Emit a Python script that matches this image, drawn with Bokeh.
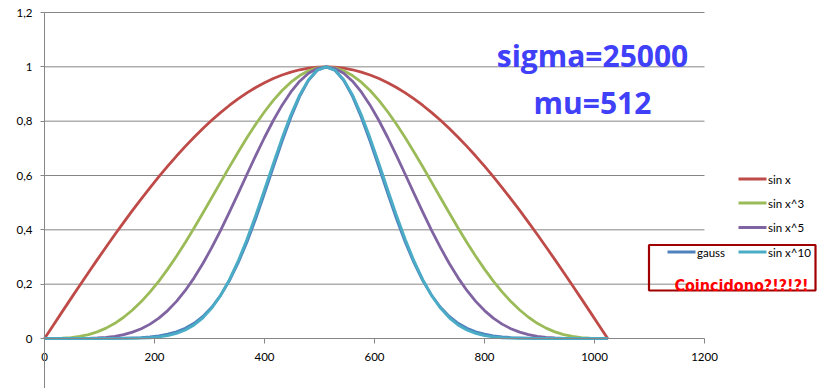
from bokeh.plotting import figure
from bokeh.models import Range1d, LinearAxis, FixedTicker
from bokeh.core.properties import value
from bokeh.embed import file_html
from bokeh.resources import INLINE

# ---------------- data ----------------
x_vals = list(range(0, 1025, 16))

sin_x = [0, 0.0491, 0.0980, 0.1467, 0.1951, 0.2430, 0.2903, 0.3369, 0.3827, 0.4276,
         0.4714, 0.5141, 0.5556, 0.5957, 0.6344, 0.6716, 0.7071, 0.7410, 0.7730, 0.8032,
         0.8315, 0.8577, 0.8819, 0.9040, 0.9239, 0.9415, 0.9569, 0.9700, 0.9808, 0.9892,
         0.9952, 0.9988, 1.0,
         0.9988, 0.9952, 0.9892, 0.9808, 0.9700, 0.9569, 0.9415, 0.9239, 0.9040, 0.8819,
         0.8577, 0.8315, 0.8032, 0.7730, 0.7410, 0.7071, 0.6716, 0.6344, 0.5957, 0.5556,
         0.5141, 0.4714, 0.4276, 0.3827, 0.3369, 0.2903, 0.2430, 0.1951, 0.1467, 0.0980,
         0.0491, 0]

sin_x3 = [0, 0.0001, 0.0009, 0.0032, 0.0074, 0.0143, 0.0245, 0.0382, 0.0560, 0.0782,
          0.1048, 0.1359, 0.1715, 0.2114, 0.2553, 0.3029, 0.3536, 0.4068, 0.4619, 0.5182,
          0.5748, 0.6310, 0.6859, 0.7387, 0.7886, 0.8347, 0.8763, 0.9128, 0.9435, 0.9679,
          0.9856, 0.9964, 1.0,
          0.9964, 0.9856, 0.9679, 0.9435, 0.9128, 0.8763, 0.8347, 0.7886, 0.7387, 0.6859,
          0.6310, 0.5748, 0.5182, 0.4619, 0.4068, 0.3536, 0.3029, 0.2553, 0.2114, 0.1715,
          0.1359, 0.1048, 0.0782, 0.0560, 0.0382, 0.0245, 0.0143, 0.0074, 0.0032, 0.0009,
          0.0001, 0]

sin_x5 = [0, 0.0, 0.0, 0.0001, 0.0003, 0.0008, 0.0021, 0.0043, 0.0082, 0.0143,
          0.0233, 0.0359, 0.0529, 0.0750, 0.1028, 0.1366, 0.1768, 0.2233, 0.2760, 0.3343,
          0.3974, 0.4643, 0.5335, 0.6037, 0.6731, 0.7399, 0.8025, 0.8589, 0.9076, 0.9471,
          0.9761, 0.9940, 1.0,
          0.9940, 0.9761, 0.9471, 0.9076, 0.8589, 0.8025, 0.7399, 0.6731, 0.6037, 0.5335,
          0.4643, 0.3974, 0.3343, 0.2760, 0.2233, 0.1768, 0.1366, 0.1028, 0.0750, 0.0529,
          0.0359, 0.0233, 0.0143, 0.0082, 0.0043, 0.0021, 0.0008, 0.0003, 0.0001, 0.0,
          0.0, 0]

gauss = [0, 0, 0, 0, 0, 0.0001, 0.0002, 0.0003, 0.0006, 0.0012,
         0.0020, 0.0035, 0.0060, 0.0099, 0.0158, 0.0247, 0.0378, 0.0561, 0.0814, 0.1150,
         0.1583, 0.2125, 0.2780, 0.3546, 0.4408, 0.5341, 0.6308, 0.7262, 0.8148, 0.8912,
         0.9501, 0.9873, 1.0,
         0.9873, 0.9501, 0.8912, 0.8148, 0.7262, 0.6308, 0.5341, 0.4408, 0.3546, 0.2780,
         0.2125, 0.1583, 0.1150, 0.0814, 0.0561, 0.0378, 0.0247, 0.0158, 0.0099, 0.0060,
         0.0035, 0.0020, 0.0012, 0.0006, 0.0003, 0.0002, 0.0001, 0, 0, 0,
         0, 0]

sin_x10 = [0, 0, 0, 0, 0, 0, 0, 0, 0.0001, 0.0002,
           0.0005, 0.0013, 0.0028, 0.0056, 0.0106, 0.0187, 0.0313, 0.0499, 0.0762, 0.1118,
           0.1579, 0.2155, 0.2846, 0.3645, 0.4531, 0.5475, 0.6439, 0.7377, 0.8237, 0.8969,
           0.9528, 0.9881, 1.0,
           0.9881, 0.9528, 0.8969, 0.8237, 0.7377, 0.6439, 0.5475, 0.4531, 0.3645, 0.2846,
           0.2155, 0.1579, 0.1118, 0.0762, 0.0499, 0.0313, 0.0187, 0.0106, 0.0056, 0.0028,
           0.0013, 0.0005, 0.0002, 0.0001, 0, 0, 0, 0, 0, 0,
           0, 0]

series_names = ["sin x", "sin x^3", "sin x^5", "gauss", "sin x^10"]
series_values = [sin_x, sin_x3, sin_x5, gauss, sin_x10]
series_colors = ["#BE4B48", "#9BBB59", "#8064A2", "#4F81BD", "#4BACC6"]

x_ticks = [0, 200, 400, 600, 800, 1000, 1200]
y_ticks = [0, 0.2, 0.4, 0.6, 0.8, 1.0, 1.2]
y_tick_labels = ["0", "0,2", "0,4", "0,6", "0,8", "1", "1,2"]

annot_sigma = "sigma=25000"
annot_mu = "mu=512"
annot_note = "Coincidono?!?!?!"

# ---------------- layout helpers (page pixels -> data) ----------------
PX_X0, PX_PER_X = 44.0, 0.55          # page x of data 0, pixels per unit
PX_Y0, PX_PER_Y = 338.0, 326.0 / 1.2  # page y of data 0, pixels per unit


def dx(px):
    return (px - PX_X0) / PX_PER_X


def dy(py):
    return (PX_Y0 - py) / PX_PER_Y


W, H = 820, 388
GRID = "#868686"
FONT = "Lato"

p = figure(width=W, height=H,
           x_range=Range1d(dx(0), dx(W)), y_range=Range1d(dy(H), dy(0)),
           output_backend="svg", toolbar_location=None,
           x_axis_location=None, y_axis_location=None,
           min_border_left=0, min_border_right=0, min_border_top=0, min_border_bottom=0)
p.outline_line_color = None
p.grid.visible = False
p.background_fill_color = "white"
p.border_fill_color = "white"


def style_axis(ax, tick_out, standoff):
    ax.minor_tick_line_color = None
    ax.major_tick_in = 0
    ax.major_tick_out = tick_out
    ax.major_label_standoff = standoff
    ax.axis_line_color = GRID
    ax.major_tick_line_color = GRID
    ax.major_label_text_font = FONT
    ax.major_label_text_font_size = "11.5px"
    ax.major_label_text_color = "#000000"


# y axis crossing at x = 0
ya = LinearAxis(fixed_location=0, bounds=(dy(H), 1.2), ticker=FixedTicker(ticks=y_ticks))
ya.major_label_overrides = {t: l for t, l in zip(y_ticks, y_tick_labels)}
style_axis(ya, 4, 8)
p.add_layout(ya, "left")

# x axis crossing at y = 0
xa = LinearAxis(fixed_location=0, bounds=(0, 1200), ticker=FixedTicker(ticks=x_ticks))
style_axis(xa, 5, 9)
p.add_layout(xa, "below")

# horizontal gridlines (only across the plot area 0..1200)
gy = [t for t in y_ticks if t > 0]
p.segment(x0=[0] * len(gy), x1=[1200] * len(gy), y0=gy, y1=gy, line_color=GRID, line_width=1)

# curves
for vals, col in zip(series_values, series_colors):
    p.line(x_vals, vals, line_color=col, line_width=2.8, line_join="round")

# legend (manual, Excel-like arrangement)
leg_rows = [178.5, 202.5, 227.0, 251.5, 251.5]
leg_x0 = [738, 738, 738, 667, 738]
for name, col, ry, lx in zip(series_names, series_colors, leg_rows, leg_x0):
    p.segment(x0=[dx(lx)], x1=[dx(lx + 28)], y0=[dy(ry)], y1=[dy(ry)], line_color=col, line_width=2.8)
    p.text(x=[dx(lx + 29.5)], y=[dy(ry)], text=[name], text_font=value(FONT),
           text_font_size="11.5px", text_baseline="middle", text_align="left", text_color="#000000")

# red note box
p.quad(left=[dx(687)], right=[dx(813)], top=[dy(259)], bottom=[dy(289)],
       fill_color="white", line_color=None)
p.quad(left=[dx(648.5)], right=[dx(815)], top=[dy(244.5)], bottom=[dy(290)],
       fill_color=None, line_color="#A00000", line_width=2.2)
p.text(x=[dx(741)], y=[dy(284.5)], text=[annot_note], text_font=value("DejaVu Sans Condensed"),
       text_font_style="bold", text_font_size="16px", text_color="#FF0000",
       text_align="center", text_baseline="alphabetic")

# sigma / mu annotations
p.text(x=[dx(592), dx(592)], y=[dy(55), dy(101.5)], text=[annot_sigma, annot_mu],
       text_font=value("Open Sans"), text_font_style="bold", text_font_size="30px",
       text_color="#4040F8", text_align="center", text_baseline="alphabetic")

open("out.html", "w").write(file_html(p, INLINE))
